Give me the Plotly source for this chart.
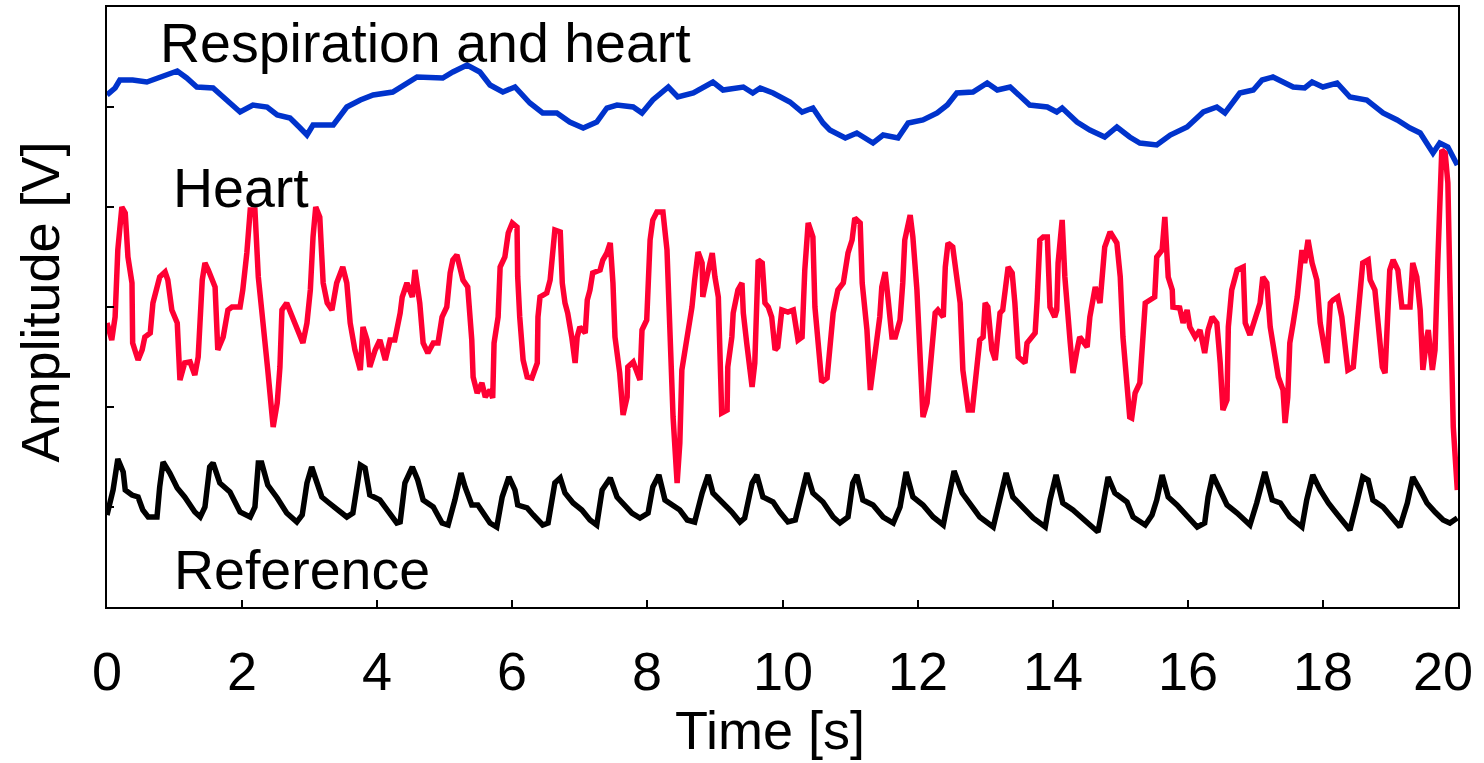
import plotly.graph_objects as go

# ---- data (time in s, amplitude in V) ----
respiration = [(0.00,5.12),(0.12,5.19),(0.19,5.27),(0.38,5.27),(0.59,5.25),(0.78,5.30),(1.04,5.36),(1.18,5.29),
    (1.33,5.20),(1.57,5.19),(1.82,5.04),(1.97,4.95),(2.16,5.02),(2.37,5.00),(2.52,4.92),(2.71,4.89),(2.86,4.79),
    (2.96,4.72),(3.05,4.82),(3.35,4.82),(3.55,5.00),(3.75,5.07),(3.94,5.12),(4.23,5.15),(4.59,5.30),(4.97,5.29),
    (5.12,5.35),(5.33,5.42),(5.52,5.35),(5.67,5.22),(5.86,5.15),(6.04,5.20),(6.26,5.04),(6.45,4.94),(6.66,4.94),
    (6.85,4.85),(7.05,4.79),(7.25,4.85),(7.40,4.99),(7.55,5.02),(7.79,5.00),(7.92,4.94),(8.08,5.07),(8.31,5.20),
    (8.45,5.10),(8.68,5.14),(8.97,5.25),(9.12,5.17),(9.42,5.20),(9.56,5.14),(9.67,5.19),(9.86,5.14),(10.11,5.05),
    (10.29,4.95),(10.45,4.99),(10.60,4.84),(10.70,4.77),(10.93,4.69),(11.10,4.74),(11.34,4.64),(11.49,4.72),
    (11.71,4.69),(11.86,4.84),(12.08,4.87),(12.29,4.94),(12.44,5.02),(12.58,5.14),(12.82,5.15),(13.03,5.24),
    (13.18,5.17),(13.37,5.20),(13.66,5.02),(13.92,5.00),(14.06,4.95),(14.14,4.99),(14.36,4.85),(14.55,4.77),
    (14.77,4.70),(14.95,4.80),(15.14,4.70),(15.29,4.64),(15.54,4.62),(15.74,4.72),(15.99,4.80),(16.23,4.95),
    (16.43,5.00),(16.55,4.94),(16.77,5.14),(16.97,5.17),(17.10,5.27),(17.26,5.30),(17.41,5.25),(17.56,5.20),
    (17.73,5.19),(17.84,5.25),(18.00,5.20),(18.21,5.24),(18.40,5.10),(18.65,5.07),(18.89,4.94),(19.10,4.87),
    (19.29,4.79),(19.44,4.74),(19.63,4.54),(19.73,4.64),(19.85,4.60),(19.99,4.42)]

heart = [(0.00,2.84),(0.07,2.67),(0.12,2.90),(0.16,3.57),(0.22,4.00),(0.27,3.94),(0.31,3.50),(0.37,3.24),
    (0.38,2.64),(0.46,2.47),(0.52,2.57),(0.56,2.70),(0.64,2.74),(0.68,3.04),(0.78,3.30),(0.86,3.35),(0.90,3.27),
    (0.96,2.97),(1.04,2.84),(1.08,2.27),(1.15,2.44),(1.23,2.45),(1.30,2.32),(1.35,2.50),(1.41,3.27),(1.45,3.44),
    (1.50,3.37),(1.55,3.30),(1.60,3.20),(1.64,2.57),(1.72,2.70),(1.79,2.97),(1.85,3.00),(1.97,3.00),(2.01,3.17),
    (2.07,3.54),(2.12,3.97),(2.19,3.97),(2.24,3.30),(2.29,2.97),(2.34,2.67),(2.38,2.37),(2.46,1.80),(2.52,2.04),
    (2.56,2.40),(2.59,2.97),(2.66,3.04),(2.74,2.90),(2.81,2.80),(2.90,2.64),(2.96,2.84),(3.01,3.17),(3.05,3.70),
    (3.09,4.00),(3.15,3.90),(3.20,3.24),(3.26,3.04),(3.33,2.97),(3.40,3.24),(3.49,3.40),(3.55,3.24),(3.60,2.84),
    (3.67,2.57),(3.75,2.37),(3.79,2.80),(3.85,2.67),(3.89,2.40),(3.97,2.57),(4.04,2.67),(4.12,2.47),(4.19,2.67),
    (4.26,2.67),(4.34,2.94),(4.37,3.10),(4.44,3.24),(4.52,3.10),(4.56,3.37),(4.63,3.04),(4.68,2.64),(4.75,2.54),
    (4.83,2.64),(4.90,2.64),(4.96,2.90),(5.03,3.00),(5.08,3.34),(5.12,3.47),(5.18,3.52),(5.23,3.40),(5.27,3.27),
    (5.34,3.20),(5.40,2.67),(5.42,2.30),(5.48,2.14),(5.55,2.24),(5.60,2.10),(5.67,2.17),(5.71,2.09),(5.73,2.64),
    (5.79,2.90),(5.82,3.40),(5.89,3.50),(5.94,3.74),(6.00,3.84),(6.07,3.80),(6.08,3.30),(6.11,2.90),(6.16,2.47),
    (6.22,2.30),(6.29,2.29),(6.37,2.44),(6.38,2.90),(6.41,3.10),(6.51,3.14),(6.56,3.27),(6.63,3.77),(6.71,3.75),
    (6.74,3.24),(6.78,3.04),(6.82,2.94),(6.88,2.70),(6.93,2.44),(6.96,2.70),(7.00,2.80),(7.08,2.74),(7.11,3.07),
    (7.15,3.17),(7.19,3.34),(7.30,3.37),(7.34,3.47),(7.40,3.54),(7.45,3.64),(7.49,3.24),(7.52,2.70),(7.59,2.34),
    (7.64,1.92),(7.70,2.10),(7.71,2.40),(7.79,2.45),(7.89,2.27),(7.92,2.77),(7.99,2.87),(8.04,3.67),(8.08,3.87),
    (8.14,3.95),(8.23,3.95),(8.29,3.57),(8.33,2.90),(8.38,1.90),(8.44,1.24),(8.48,1.64),(8.51,2.37),(8.56,2.57),
    (8.60,2.80),(8.66,3.00),(8.70,3.27),(8.75,3.55),(8.81,3.44),(8.82,3.10),(8.88,3.30),(8.96,3.54),(9.00,3.30),
    (9.05,3.10),(9.10,1.94),(9.18,1.97),(9.19,2.40),(9.25,2.70),(9.27,2.94),(9.34,3.17),(9.40,3.24),(9.42,2.94),
    (9.47,2.64),(9.55,2.20),(9.59,2.44),(9.64,3.47),(9.70,3.44),(9.74,3.04),(9.79,3.00),(9.84,2.90),(9.89,2.57),
    (9.93,2.60),(9.99,2.97),(10.08,2.95),(10.16,2.97),(10.23,2.67),(10.29,2.70),(10.33,3.37),(10.38,3.84),
    (10.45,3.70),(10.48,3.00),(10.53,2.54),(10.58,2.25),(10.66,2.29),(10.70,2.64),(10.75,2.94),(10.82,3.17),
    (10.90,3.24),(10.97,3.54),(11.03,3.67),(11.07,3.89),(11.15,3.84),(11.18,3.24),(11.25,2.77),(11.30,2.17),
    (11.34,2.37),(11.40,2.70),(11.44,2.90),(11.47,3.20),(11.52,3.35),(11.56,3.10),(11.62,2.70),(11.67,2.70),
    (11.74,2.87),(11.78,3.24),(11.81,3.67),(11.89,3.92),(11.93,3.70),(11.99,3.17),(12.04,2.57),(12.08,1.90),
    (12.14,2.04),(12.21,2.57),(12.26,2.94),(12.30,2.97),(12.38,2.90),(12.41,3.40),(12.45,3.64),(12.52,3.60),
    (12.58,3.27),(12.63,3.04),(12.67,2.37),(12.75,1.97),(12.81,1.97),(12.88,2.37),(12.92,2.67),(12.97,2.70),
    (13.00,3.04),(13.04,3.00),(13.10,2.57),(13.15,2.47),(13.22,2.94),(13.26,2.97),(13.34,3.40),(13.40,3.34),
    (13.44,3.04),(13.49,2.50),(13.59,2.44),(13.62,2.64),(13.66,2.67),(13.74,2.74),(13.77,3.07),(13.81,3.67),
    (13.86,3.70),(13.92,3.70),(13.96,3.00),(14.03,2.90),(14.06,2.97),(14.08,3.44),(14.14,3.87),(14.18,3.30),
    (14.26,2.64),(14.30,2.34),(14.36,2.57),(14.40,2.70),(14.51,2.60),(14.55,2.90),(14.63,3.20),(14.70,3.04),
    (14.77,3.60),(14.85,3.75),(14.95,3.64),(15.00,3.30),(15.04,2.70),(15.10,2.10),(15.14,1.90),(15.17,1.89),
    (15.22,2.14),(15.29,2.24),(15.34,2.74),(15.37,3.04),(15.44,3.07),(15.51,3.10),(15.54,3.50),(15.62,3.57),
    (15.66,3.90),(15.71,3.30),(15.77,3.17),(15.78,3.00),(15.88,2.99),(15.93,2.84),(15.99,2.97),(16.03,2.80),
    (16.11,2.70),(16.18,2.77),(16.25,2.54),(16.30,2.77),(16.36,2.90),(16.43,2.84),(16.48,2.44),(16.52,1.97),
    (16.58,2.07),(16.60,2.80),(16.65,3.17),(16.73,3.37),(16.82,3.40),(16.85,2.84),(16.92,2.72),(16.97,2.84),
    (17.02,2.97),(17.07,3.04),(17.11,3.30),(17.17,3.24),(17.22,2.80),(17.29,2.47),(17.34,2.30),(17.41,2.17),
    (17.44,1.84),(17.48,2.10),(17.51,2.64),(17.56,2.84),(17.62,3.10),(17.66,3.37),(17.69,3.57),(17.73,3.44),
    (17.78,3.67),(17.84,3.44),(17.91,3.27),(17.96,2.84),(18.00,2.67),(18.06,2.44),(18.08,2.70),(18.11,3.04),
    (18.15,3.07),(18.22,3.10),(18.28,2.90),(18.33,2.57),(18.37,2.37),(18.45,2.40),(18.50,2.74),(18.55,3.17),
    (18.59,3.44),(18.67,3.47),(18.70,3.27),(18.77,3.17),(18.82,2.84),(18.88,2.40),(18.92,2.34),(18.96,2.84),
    (18.99,3.37),(19.04,3.47),(19.11,3.37),(19.17,3.00),(19.29,3.00),(19.33,3.44),(19.39,3.30),(19.44,2.97),
    (19.48,2.37),(19.54,2.70),(19.56,2.77),(19.62,2.37),(19.66,2.57),(19.70,3.44),(19.76,4.57),(19.81,4.54),
    (19.85,4.24),(19.88,3.24),(19.93,1.80),(19.99,1.17)]

reference = [(0.00,0.92),(0.09,1.17),(0.16,1.48),(0.24,1.35),(0.27,1.17),(0.37,1.12),(0.46,1.10),(0.53,0.97),
    (0.61,0.90),(0.74,0.90),(0.78,1.20),(0.83,1.45),(0.93,1.34),(1.04,1.19),(1.15,1.10),(1.30,0.95),(1.38,0.90),
    (1.45,1.00),(1.52,1.40),(1.57,1.44),(1.67,1.24),(1.82,1.15),(1.97,0.95),(2.12,0.90),(2.19,1.00),(2.24,1.44),
    (2.29,1.44),(2.38,1.22),(2.52,1.09),(2.66,0.94),(2.81,0.85),(2.89,0.92),(2.96,1.24),(3.03,1.40),(3.11,1.24),
    (3.18,1.10),(3.27,1.05),(3.55,0.90),(3.64,0.94),(3.75,1.42),(3.82,1.39),(3.89,1.12),(4.04,1.07),(4.29,0.84),
    (4.34,0.85),(4.41,1.24),(4.52,1.40),(4.60,1.27),(4.68,1.07),(4.83,1.00),(4.96,0.84),(5.05,0.82),(5.15,1.07),
    (5.24,1.34),(5.30,1.20),(5.40,1.02),(5.49,1.02),(5.57,0.94),(5.67,0.84),(5.77,0.80),(5.85,1.10),(5.95,1.30),
    (6.04,1.17),(6.08,1.02),(6.22,0.99),(6.31,0.92),(6.45,0.82),(6.53,0.84),(6.63,1.24),(6.71,1.29),(6.78,1.14),
    (6.90,1.04),(7.03,0.97),(7.15,0.87),(7.25,0.82),(7.33,1.17),(7.45,1.29),(7.55,1.10),(7.64,1.04),(7.77,0.94),
    (7.89,0.89),(8.01,0.94),(8.08,1.20),(8.17,1.32),(8.26,1.07),(8.38,1.02),(8.48,0.97),(8.59,0.87),(8.70,0.85),
    (8.81,1.14),(8.90,1.32),(8.97,1.14),(9.12,1.04),(9.25,0.95),(9.37,0.85),(9.44,0.89),(9.55,1.24),(9.62,1.32),
    (9.71,1.10),(9.86,1.05),(9.96,0.95),(10.08,0.85),(10.19,0.87),(10.26,1.07),(10.36,1.34),(10.45,1.14),
    (10.60,1.05),(10.75,0.90),(10.85,0.84),(10.97,0.90),(11.04,1.24),(11.10,1.32),(11.19,1.07),(11.34,1.02),
    (11.49,0.90),(11.64,0.84),(11.74,1.00),(11.83,1.35),(11.93,1.10),(12.08,1.02),(12.23,0.90),(12.38,0.82),
    (12.45,1.04),(12.54,1.36),(12.66,1.14),(12.78,1.02),(12.92,0.90),(13.12,0.80),(13.22,1.07),(13.31,1.34),
    (13.41,1.10),(13.55,1.00),(13.71,0.89),(13.89,0.80),(13.96,1.07),(14.05,1.32),(14.15,1.04),(14.30,0.97),
    (14.51,0.84),(14.67,0.75),(14.74,1.00),(14.82,1.30),(14.92,1.14),(15.10,1.05),(15.19,0.90),(15.37,0.82),
    (15.47,0.92),(15.54,1.07),(15.62,1.32),(15.71,1.10),(15.84,1.02),(15.99,0.90),(16.14,0.80),(16.25,0.84),
    (16.30,1.10),(16.37,1.32),(16.48,1.17),(16.58,1.02),(16.73,0.94),(16.92,0.82),(17.02,1.04),(17.14,1.35),
    (17.25,1.07),(17.37,1.04),(17.51,0.90),(17.69,0.80),(17.76,1.07),(17.85,1.32),(17.96,1.17),(18.08,1.04),
    (18.22,0.92),(18.40,0.77),(18.50,1.04),(18.59,1.30),(18.67,1.27),(18.74,1.07),(18.89,1.00),(19.04,0.87),
    (19.14,0.80),(19.25,1.04),(19.33,1.30),(19.44,1.17),(19.54,1.04),(19.66,0.95),(19.78,0.87),(19.88,0.84),
    (19.99,0.89)]

x_ticks = [0, 2, 4, 6, 8, 10, 12, 14, 16, 18, 20]
x_tick_text = ["0", "2", "4", "6", "8", "10", "12", "14", "16", "18", "20"]
y_ticks = [0, 1, 2, 3, 4, 5, 6]

series_labels = [("Respiration and heart", 0.76, 5.64),
                 ("Heart", 0.94, 4.19),
                 ("Reference", 0.96, 0.37)]

FONT = "Liberation Sans, Arial, sans-serif"

fig = go.Figure()
for data, color in [(respiration, "#0033CC"), (heart, "#FF0033"), (reference, "#000000")]:
    fig.add_trace(go.Scatter(
        x=[p[0] for p in data], y=[p[1] for p in data],
        mode="lines", line=dict(color=color, width=5.5),
        showlegend=False, hoverinfo="skip"))

for text, tx, ty in series_labels:
    fig.add_annotation(x=tx, y=ty, text=text, showarrow=False,
                       xanchor="left", yanchor="middle",
                       font=dict(family=FONT, size=55.5, color="black"))

# x tick labels (last one kept inside the canvas, as in the reference)
for i, (v, lab) in enumerate(zip(x_ticks, x_tick_text)):
    last = i == len(x_ticks) - 1
    fig.add_annotation(x=v, xref="x", yref="paper", y=-0.1067, text=lab,
                       showarrow=False, yanchor="middle",
                       xanchor="right" if last else "center",
                       xshift=17 if last else 0,
                       font=dict(family=FONT, size=54, color="black"))

fig.add_annotation(xref="paper", yref="paper", x=0.491, y=-0.205, text="Time [s]",
                   showarrow=False, xanchor="center", yanchor="middle",
                   font=dict(family=FONT, size=54, color="black"))
fig.add_annotation(xref="paper", yref="paper", x=-0.0496, y=0.509, text="Amplitude [V]",
                   showarrow=False, xanchor="center", yanchor="middle", textangle=-90,
                   font=dict(family=FONT, size=54, color="black"))

fig.update_layout(
    width=1484, height=763,
    margin=dict(l=107, r=26, t=7, b=156, autoexpand=False),
    paper_bgcolor="white", plot_bgcolor="white",
    font=dict(family=FONT, size=54, color="black"),
)
fig.update_xaxes(range=[0, 20], tickvals=x_ticks, showticklabels=False,
                 ticks="inside", ticklen=7, tickwidth=2, tickcolor="black",
                 showline=True, linewidth=2, linecolor="black", mirror=True,
                 showgrid=False, zeroline=False, automargin=False)
fig.update_yaxes(range=[0, 6], tickvals=y_ticks, showticklabels=False,
                 ticks="inside", ticklen=7, tickwidth=2, tickcolor="black",
                 showline=True, linewidth=2, linecolor="black", mirror=True,
                 showgrid=False, zeroline=False, automargin=False)

fig.write_html("out.html")
